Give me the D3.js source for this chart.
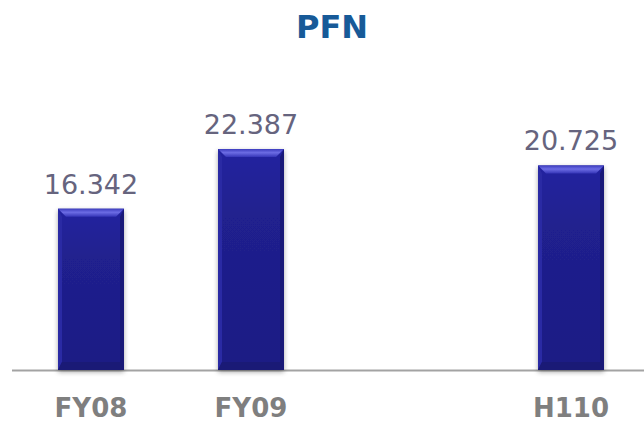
<!DOCTYPE html>
<html>
<head>
<meta charset="utf-8">
<script src="https://cdn.jsdelivr.net/npm/d3@7"></script>
<style>
  html, body { margin: 0; padding: 0; background: #fff; }
  svg { display: block; }
</style>
</head>
<body>
<div id="chart"></div>
<script>
const categories = ['FY08', 'FY09', '', 'H110']
const values = [16.342, 22.387, null, 20.725]
const valueLabels = ['16.342', '22.387', '', '20.725']
const title = 'PFN'

const w = 644, h = 423
const margin = { left: 11, right: -7, top: 0, bottom: 53 }
const baseY = h - margin.bottom
const bevel = 8

const svg = d3.select('#chart').append('svg')
  .attr('width', w).attr('height', h)

const defs = svg.append('defs')
const shadow = defs.append('filter').attr('id', 'shadow')
  .attr('x', '-20%').attr('y', '-10%').attr('width', '140%').attr('height', '130%')
shadow.append('feGaussianBlur').attr('in', 'SourceAlpha').attr('stdDeviation', 2.5)
shadow.append('feOffset').attr('dx', 0).attr('dy', 2).attr('result', 'b')
shadow.append('feComponentTransfer').append('feFuncA').attr('type', 'linear').attr('slope', 0.35)
const merge = shadow.append('feMerge')
merge.append('feMergeNode')
merge.append('feMergeNode').attr('in', 'SourceGraphic')

const topGrad = defs.append('linearGradient').attr('id', 'topBevel')
  .attr('x1', 0).attr('y1', 0).attr('x2', 0).attr('y2', 1)
topGrad.append('stop').attr('offset', '0%').attr('stop-color', '#3c3cbe')
topGrad.append('stop').attr('offset', '45%').attr('stop-color', '#6c6ce4')
topGrad.append('stop').attr('offset', '100%').attr('stop-color', '#3636b8')

const bodyGrad = defs.append('linearGradient').attr('id', 'body')
  .attr('x1', 0).attr('y1', 0).attr('x2', 0).attr('y2', 1)
bodyGrad.append('stop').attr('offset', '0%').attr('stop-color', '#2424a0')
bodyGrad.append('stop').attr('offset', '30%').attr('stop-color', '#20208e')
bodyGrad.append('stop').attr('offset', '100%').attr('stop-color', '#1c1c84')

const x = d3.scaleBand()
  .domain(categories)
  .range([margin.left, w - margin.right])
  .paddingInner(0.5875)
  .paddingOuter(0.29375)

const y = d3.scaleLinear()
  .domain([0, 30])
  .range([baseY, baseY - 30 * 9.87])

// title
svg.append('text')
  .attr('x', 332).attr('y', 38)
  .attr('text-anchor', 'middle')
  .style('font-family', 'Verdana, "DejaVu Sans", sans-serif')
  .style('font-weight', 'bold').style('font-size', '32px')
  .style('fill', '#175a98')
  .text(title)

// baseline
svg.append('line')
  .attr('x1', 12).attr('x2', w)
  .attr('y1', baseY + 0.5).attr('y2', baseY + 0.5)
  .attr('stroke', '#a3a3a3').attr('stroke-width', 2)

const data = categories.map((c, i) => ({ key: c, value: values[i], label: valueLabels[i] }))
  .filter(d => d.value != null)

svg.selectAll('g.bar')
  .data(data).enter().append('g')
  .classed('bar', true)
  .each(function (d) {
    const x0 = x(d.key), bw = x.bandwidth()
    const y0 = y(d.value), x1 = x0 + bw
    const g = d3.select(this)
    g.append('rect')
      .attr('x', x0).attr('y', y0)
      .attr('width', bw).attr('height', baseY - y0)
      .attr('fill', 'url(#body)')
      .attr('filter', 'url(#shadow)')
    // sides
    g.append('path')
      .attr('d', `M${x0},${y0}L${x0 + 4},${y0 + bevel}L${x0 + 4},${baseY - bevel}L${x0},${baseY}Z`)
      .attr('fill', '#2a2aa4')
    g.append('path')
      .attr('d', `M${x1},${y0}L${x1 - 4},${y0 + bevel}L${x1 - 4},${baseY - bevel}L${x1},${baseY}Z`)
      .attr('fill', '#191978')
    // bottom
    g.append('path')
      .attr('d', `M${x0},${baseY}L${x0 + 4},${baseY - bevel}L${x1 - 4},${baseY - bevel}L${x1},${baseY}Z`)
      .attr('fill', '#1a1a76')
    // top bevel
    g.append('path')
      .attr('d', `M${x0},${y0}L${x1},${y0}L${x1 - 8},${y0 + bevel}L${x0 + 8},${y0 + bevel}Z`)
      .attr('fill', 'url(#topBevel)')
    g.append('text')
      .attr('x', x0 + bw / 2).attr('y', y0 - 15)
      .attr('text-anchor', 'middle')
      .style('font-family', 'Verdana, "DejaVu Sans", sans-serif')
      .style('font-size', '27px')
      .style('fill', '#66647e')
      .text(d.label)
  })

// category labels
svg.selectAll('text.cat')
  .data(categories.filter(c => c !== '')).enter().append('text')
  .classed('cat', true)
  .attr('x', d => x(d) + x.bandwidth() / 2)
  .attr('y', 417)
  .attr('text-anchor', 'middle')
  .style('font-family', 'Verdana, "DejaVu Sans", sans-serif')
  .style('font-weight', 'bold').style('font-size', '26px')
  .style('fill', '#7f7f7f')
  .text(d => d)
</script>
</body>
</html>
